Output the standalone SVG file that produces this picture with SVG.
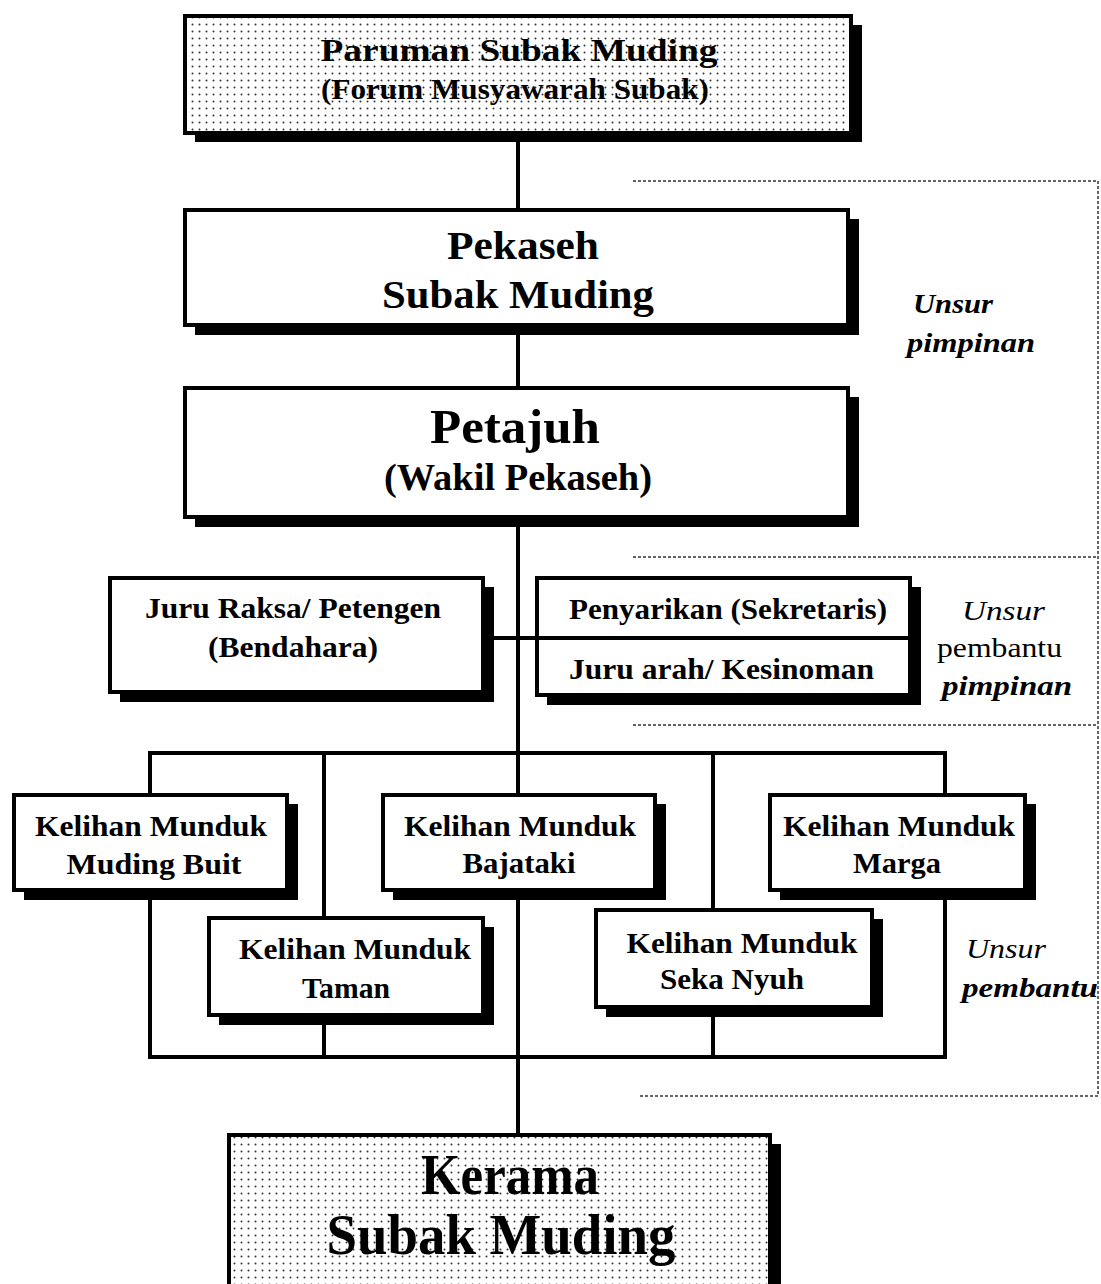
<svg xmlns="http://www.w3.org/2000/svg" width="1101" height="1284" viewBox="0 0 1101 1284">
<style>
.box{fill:#fff;stroke:#000;stroke-width:4}
.dot{fill:url(#dots);stroke:#000;stroke-width:4}
.sh{fill:#000}
.ln{stroke:#000;stroke-width:4;fill:none}
.dash{stroke:#333;stroke-width:1.5;stroke-dasharray:3 2;fill:none}
text{font-family:"Liberation Serif","Times New Roman",serif;font-weight:bold;fill:#000}
.m{text-anchor:middle}
.it{font-style:italic}
.rg{font-weight:normal}
</style>
<defs>
<pattern id="dots" width="7" height="7" patternUnits="userSpaceOnUse">
<rect width="7" height="7" fill="#fff"/>
<circle cx="3.5" cy="3.5" r="1" fill="#333"/>
</pattern>
</defs>
<rect width="1101" height="1284" fill="#fff"/>

<g id="guides">
<polyline class="dash" points="633,181 1098,181 1098,1096 640,1096"/>
<line class="dash" x1="633" y1="557" x2="1098" y2="557"/>
<line class="dash" x1="633" y1="725" x2="1098" y2="725"/>
</g>

<g id="connectors">
<line class="ln" x1="518" y1="135" x2="518" y2="210"/>
<line class="ln" x1="518" y1="330" x2="518" y2="388"/>
<line class="ln" x1="518" y1="520" x2="518" y2="795"/>
<line class="ln" x1="488" y1="638" x2="537" y2="638"/>
<line class="ln" x1="148" y1="753" x2="947" y2="753"/>
<line class="ln" x1="150" y1="753" x2="150" y2="795"/>
<line class="ln" x1="324" y1="753" x2="324" y2="918"/>
<line class="ln" x1="713" y1="753" x2="713" y2="910"/>
<line class="ln" x1="945" y1="753" x2="945" y2="795"/>
<line class="ln" x1="150" y1="895" x2="150" y2="1057"/>
<line class="ln" x1="324" y1="1020" x2="324" y2="1057"/>
<line class="ln" x1="713" y1="1012" x2="713" y2="1057"/>
<line class="ln" x1="945" y1="895" x2="945" y2="1057"/>
<line class="ln" x1="148" y1="1057" x2="947" y2="1057"/>
<line class="ln" x1="518" y1="895" x2="518" y2="1135"/>
</g>

<g id="paruman">
<rect class="sh" x="195" y="25" width="667" height="117"/>
<rect class="dot" x="185" y="16" width="666" height="117"/>
<text class="m" x="519" y="61" font-size="32" textLength="397" lengthAdjust="spacingAndGlyphs">Paruman Subak Muding</text>
<text class="m" x="515" y="99" font-size="29" textLength="388" lengthAdjust="spacingAndGlyphs">(Forum Musyawarah Subak)</text>
</g>

<g id="pekaseh">
<rect class="sh" x="195" y="219" width="664" height="116"/>
<rect class="box" x="185" y="210" width="663" height="115"/>
<text class="m" x="523" y="259" font-size="41" textLength="152" lengthAdjust="spacingAndGlyphs">Pekaseh</text>
<text class="m" x="518" y="308" font-size="41" textLength="272" lengthAdjust="spacingAndGlyphs">Subak Muding</text>
</g>

<g id="petajuh">
<rect class="sh" x="195" y="397" width="664" height="130"/>
<rect class="box" x="185" y="388" width="663" height="129"/>
<text class="m" x="515" y="443" font-size="49" textLength="170" lengthAdjust="spacingAndGlyphs">Petajuh</text>
<text class="m" x="518" y="490" font-size="37" textLength="268" lengthAdjust="spacingAndGlyphs">(Wakil Pekaseh)</text>
</g>

<g id="juru-raksa">
<rect class="sh" x="120" y="587" width="374" height="115"/>
<rect class="box" x="110" y="578" width="373" height="114"/>
<text class="m" x="293" y="618" font-size="29" textLength="296" lengthAdjust="spacingAndGlyphs">Juru Raksa/ Petengen</text>
<text class="m" x="293" y="657" font-size="29" textLength="170" lengthAdjust="spacingAndGlyphs">(Bendahara)</text>
</g>

<g id="penyarikan">
<rect class="sh" x="547" y="587" width="374" height="118"/>
<rect class="box" x="537" y="578" width="373" height="117"/>
<line class="ln" x1="537" y1="638" x2="910" y2="638"/>
<text x="569" y="619" font-size="29" textLength="318" lengthAdjust="spacingAndGlyphs">Penyarikan (Sekretaris)</text>
<text x="569" y="679" font-size="29" textLength="305" lengthAdjust="spacingAndGlyphs">Juru arah/ Kesinoman</text>
</g>

<g id="muding-buit">
<rect class="sh" x="24" y="804" width="274" height="96"/>
<rect class="box" x="14" y="795" width="273" height="95"/>
<text class="m" x="151" y="836" font-size="29" textLength="232" lengthAdjust="spacingAndGlyphs">Kelihan Munduk</text>
<text class="m" x="154" y="874" font-size="29" textLength="175" lengthAdjust="spacingAndGlyphs">Muding Buit</text>
</g>

<g id="bajataki">
<rect class="sh" x="393" y="804" width="273" height="96"/>
<rect class="box" x="383" y="795" width="272" height="95"/>
<text class="m" x="520" y="836" font-size="29" textLength="232" lengthAdjust="spacingAndGlyphs">Kelihan Munduk</text>
<text class="m" x="519" y="873" font-size="29" textLength="113" lengthAdjust="spacingAndGlyphs">Bajataki</text>
</g>

<g id="marga">
<rect class="sh" x="780" y="804" width="256" height="96"/>
<rect class="box" x="770" y="795" width="255" height="95"/>
<text class="m" x="899" y="836" font-size="29" textLength="232" lengthAdjust="spacingAndGlyphs">Kelihan Munduk</text>
<text class="m" x="897" y="873" font-size="29" textLength="88" lengthAdjust="spacingAndGlyphs">Marga</text>
</g>

<g id="taman">
<rect class="sh" x="219" y="927" width="275" height="98"/>
<rect class="box" x="209" y="918" width="274" height="97"/>
<text class="m" x="355" y="959" font-size="29" textLength="232" lengthAdjust="spacingAndGlyphs">Kelihan Munduk</text>
<text class="m" x="346" y="998" font-size="29" textLength="88" lengthAdjust="spacingAndGlyphs">Taman</text>
</g>

<g id="seka-nyuh">
<rect class="sh" x="606" y="919" width="277" height="98"/>
<rect class="box" x="596" y="910" width="276" height="97"/>
<text class="m" x="742" y="953" font-size="29" textLength="231" lengthAdjust="spacingAndGlyphs">Kelihan Munduk</text>
<text class="m" x="732" y="989" font-size="29" textLength="144" lengthAdjust="spacingAndGlyphs">Seka Nyuh</text>
</g>

<g id="kerama">
<rect class="sh" x="239" y="1144" width="542" height="170"/>
<rect class="dot" x="229" y="1135" width="541" height="170"/>
<text class="m" x="510" y="1194" font-size="58" textLength="178" lengthAdjust="spacingAndGlyphs">Kerama</text>
<text class="m" x="501" y="1254" font-size="58" textLength="349" lengthAdjust="spacingAndGlyphs">Subak Muding</text>
</g>

<g id="labels">
<text class="it" x="913" y="313" font-size="28" textLength="80" lengthAdjust="spacingAndGlyphs">Unsur</text>
<text class="it" x="907" y="352" font-size="28" textLength="128" lengthAdjust="spacingAndGlyphs">pimpinan</text>
<text class="it rg" x="962" y="620" font-size="28" textLength="83" lengthAdjust="spacingAndGlyphs">Unsur</text>
<text class="rg" x="937" y="657" font-size="28" textLength="125" lengthAdjust="spacingAndGlyphs">pembantu</text>
<text class="it" x="942" y="695" font-size="28" textLength="130" lengthAdjust="spacingAndGlyphs">pimpinan</text>
<text class="it rg" x="966" y="958" font-size="28" textLength="80" lengthAdjust="spacingAndGlyphs">Unsur</text>
<text class="it" x="962" y="997" font-size="28" textLength="136" lengthAdjust="spacingAndGlyphs">pembantu</text>
</g>
</svg>
